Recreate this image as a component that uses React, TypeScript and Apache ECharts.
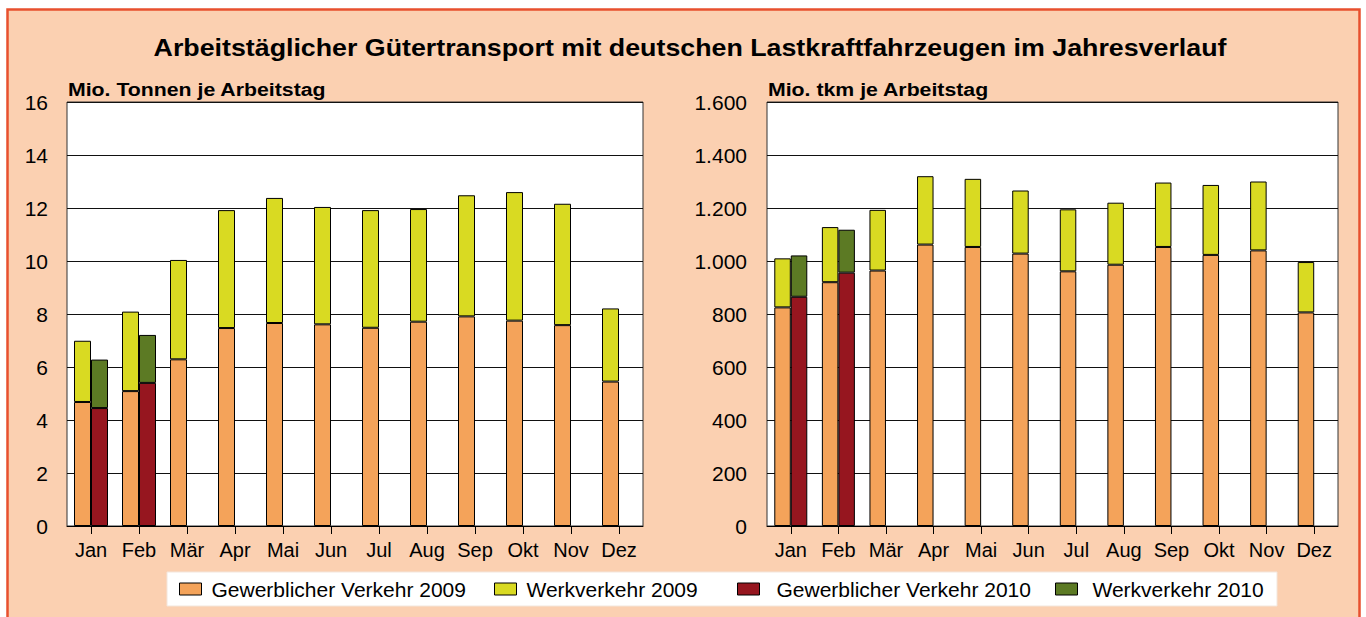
import React, { useEffect, useRef } from "react";
import * as echarts from "echarts";

const months = ["Jan", "Feb", "Mär", "Apr", "Mai", "Jun", "Jul", "Aug", "Sep", "Okt", "Nov", "Dez"];

// Mio. Tonnen je Arbeitstag
const tonGew2009 = [4.68, 5.09, 6.29, 7.47, 7.66, 7.61, 7.48, 7.71, 7.91, 7.75, 7.58, 5.45];
const tonWerk2009 = [2.31, 3.0, 3.75, 4.45, 4.72, 4.43, 4.44, 4.25, 4.57, 4.85, 4.58, 2.76];
const tonGew2010 = [4.45, 5.4, null, null, null, null, null, null, null, null, null, null];
const tonWerk2010 = [1.83, 1.81, null, null, null, null, null, null, null, null, null, null];

// Mio. tkm je Arbeitstag
const tkmGew2009 = [825, 920, 964, 1062, 1053, 1028, 961, 986, 1053, 1023, 1040, 806];
const tkmWerk2009 = [185, 208, 229, 258, 257, 238, 234, 234, 243, 264, 260, 190];
const tkmGew2010 = [865, 956, null, null, null, null, null, null, null, null, null, null];
const tkmWerk2010 = [156, 162, null, null, null, null, null, null, null, null, null, null];

const seriesNames = [
  "Gewerblicher Verkehr 2009",
  "Werkverkehr 2009",
  "Gewerblicher Verkehr 2010",
  "Werkverkehr 2010",
];
const colors = ["#f4a35a", "#d9da22", "#96161f", "#5c7a24"];

const titleText = "Arbeitstäglicher Gütertransport mit deutschen Lastkraftfahrzeugen im Jahresverlauf";
const leftSubtitle = "Mio. Tonnen je Arbeitstag";
const rightSubtitle = "Mio. tkm je Arbeitstag";

const FONT = "'Liberation Sans', Arial, Helvetica, sans-serif";

export default function App() {
  const ref = useRef<HTMLDivElement>(null);

  useEffect(() => {
    if (!ref.current) return;
    const chart = echarts.init(ref.current, undefined, { renderer: "svg" });

    const fmtDot = (v: number) => {
      const s = String(Math.round(v));
      return s.replace(/\B(?=(\d{3})+(?!\d))/g, ".");
    };

    const mkBars = (idx: number, data: (number | null)[][], stackPrefix: string, bw: number) =>
      data.map((d, i) => ({
        name: seriesNames[i],
        type: "bar",
        xAxisIndex: idx,
        yAxisIndex: idx,
        stack: stackPrefix + (i < 2 ? "2009" : "2010"),
        barWidth: bw,
        barGap: "0%",
        data: d.map((v) => (v === null ? "-" : v)),
        itemStyle: { color: colors[i], borderColor: "#000", borderWidth: 1 },
        emphasis: { disabled: true },
      }));

    const xAxisBase = (gridIndex: number) => ({
      type: "category",
      gridIndex,
      data: months,
      axisLine: { show: true, lineStyle: { color: "#000", width: 1 } },
      axisTick: { show: true, alignWithLabel: true, interval: 0, length: 8, lineStyle: { color: "#000" } },
      axisLabel: { color: "#000", fontSize: 20, fontFamily: FONT, margin: 14, interval: 0 },
      splitLine: { show: false },
    });

    const legendIcons = [179, 494, 737, 1055];
    const legendGaps = [10, 10, 17, 15];

    const option: any = {
      animation: false,
      graphic: [
        {
          type: "rect",
          z: -10,
          silent: true,
          shape: { x: 7.5, y: 9.5, width: 1352, height: 660 },
          style: { fill: "#fbd0b1", stroke: "#e8502e", lineWidth: 2.5 },
        },
        {
          type: "rect",
          z: -5,
          silent: true,
          shape: { x: 167, y: 572, width: 1110, height: 34 },
          style: { fill: "#ffffff", stroke: "#f3e6dc", lineWidth: 1 },
        },
        {
          type: "text",
          x: 690,
          y: 48,
          scaleX: 1.165,
          z: 10,
          style: {
            text: titleText,
            fontSize: 23,
            fontWeight: "bold",
            fontFamily: FONT,
            fill: "#000",
            align: "center",
            verticalAlign: "middle",
          },
        },
        {
          type: "text",
          x: 68,
          y: 89,
          scaleX: 1.12,
          z: 10,
          style: {
            text: leftSubtitle,
            fontSize: 19,
            fontWeight: "bold",
            fontFamily: FONT,
            fill: "#000",
            align: "left",
            verticalAlign: "middle",
          },
        },
        {
          type: "text",
          x: 768,
          y: 89,
          scaleX: 1.12,
          z: 10,
          style: {
            text: rightSubtitle,
            fontSize: 19,
            fontWeight: "bold",
            fontFamily: FONT,
            fill: "#000",
            align: "left",
            verticalAlign: "middle",
          },
        },
      ],
      legend: seriesNames.map((n, i) => ({
        data: [n],
        left: legendIcons[i],
        top: 578,
        padding: 0,
        itemWidth: 22,
        itemHeight: 12,
        selectedMode: false,
        icon: "rect",
        itemStyle: { borderColor: "#000", borderWidth: 1 },
        textStyle: {
          color: "#000",
          fontSize: 21,
          fontFamily: FONT,
          lineHeight: 22,
          padding: [0, 0, 0, legendGaps[i] - 5],
        },
      })),
      grid: [
        {
          left: 67,
          top: 102,
          width: 576,
          height: 424,
          show: true,
          backgroundColor: "#fff",
          borderColor: "#333",
          borderWidth: 1,
        },
        {
          left: 767,
          top: 102,
          width: 571,
          height: 424,
          show: true,
          backgroundColor: "#fff",
          borderColor: "#333",
          borderWidth: 1,
        },
      ],
      xAxis: [xAxisBase(0), xAxisBase(1)],
      yAxis: [
        {
          type: "value",
          gridIndex: 0,
          min: 0,
          max: 16,
          interval: 2,
          axisLine: { show: false },
          axisTick: { show: false },
          axisLabel: { color: "#000", fontSize: 21, fontFamily: FONT, margin: 19 },
          splitLine: { show: true, lineStyle: { color: "#111", width: 1 } },
        },
        {
          type: "value",
          gridIndex: 1,
          min: 0,
          max: 1600,
          interval: 200,
          axisLine: { show: false },
          axisTick: { show: false },
          axisLabel: { color: "#000", fontSize: 21, fontFamily: FONT, margin: 20, formatter: fmtDot },
          splitLine: { show: true, lineStyle: { color: "#111", width: 1 } },
        },
      ],
      series: [
        ...mkBars(0, [tonGew2009, tonWerk2009, tonGew2010, tonWerk2010], "L", 17),
        ...mkBars(1, [tkmGew2009, tkmWerk2009, tkmGew2010, tkmWerk2010], "R", 16.5),
      ],
    };

    chart.setOption(option);
    return () => chart.dispose();
  }, []);

  return (
    <div
      ref={ref}
      style={{ position: "absolute", left: 0, top: 0, width: 1366, height: 617, background: "#fff" }}
    />
  );
}
